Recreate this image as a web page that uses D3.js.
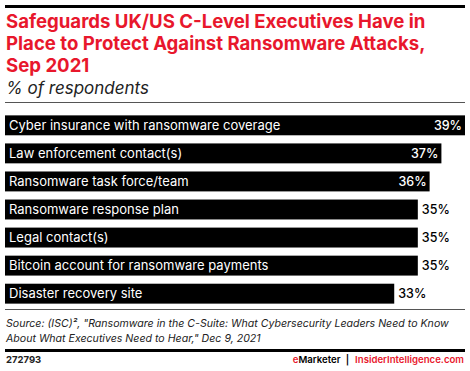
<!DOCTYPE html>
<html>
<head>
<meta charset="utf-8">
<script src="https://cdnjs.cloudflare.com/ajax/libs/d3/7.8.5/d3.min.js"></script>
<style>
  body { margin: 0; background: #fff; }
  text { font-family: Inter, "Liberation Sans", sans-serif; }
</style>
</head>
<body>
<script>
(function(){

// chart data
var categories = [
    "Cyber insurance with ransomware coverage",
    "Law enforcement contact(s)",
    "Ransomware task force/team",
    "Ransomware response plan",
    "Legal contact(s)",
    "Bitcoin account for ransomware payments",
    "Disaster recovery site"
];
var values = [39, 37, 36, 35, 35, 35, 33];

var titleLines = [
    "Safeguards UK/US C-Level Executives Have in",
    "Place to Protect Against Ransomware Attacks,",
    "Sep 2021"
];
var subtitle = "% of respondents";
var sourceLines = [
    "Source: (ISC)², \"Ransomware in the C-Suite: What Cybersecurity Leaders Need to Know",
    "About What Executives Need to Hear,\" Dec 9, 2021"
];
var chartId = "272793";

var width = 470,
    height = 371,
    red = "#e8172c";

var svg = d3.select("body")
    .append("svg")
    .attr("width", width)
    .attr("height", height);

// top rule
svg.append("rect")
    .attr("x", 5).attr("y", 5)
    .attr("width", 460).attr("height", 3)
    .attr("fill", "#000");

// title
svg.selectAll(".title")
    .data(titleLines)
    .enter()
    .append("text")
    .attr("class", "title")
    .attr("x", 6)
    .attr("y", function(d, i){ return 28 + i * 22; })
    .attr("fill", red)
    .attr("font-size", 18.6)
    .attr("font-weight", 700)
    .text(function(d){ return d; });

svg.append("text")
    .attr("x", 6).attr("y", 94)
    .attr("font-size", 17)
    .attr("font-style", "italic")
    .attr("fill", "#222")
    .text(subtitle);

svg.append("line")
    .attr("x1", 5).attr("x2", 465)
    .attr("y1", 102.5).attr("y2", 102.5)
    .attr("stroke", "#555").attr("stroke-width", 1);

// scales
var x = d3.scaleLinear()
    .domain([0, 39])
    .range([5, 465]);

var y = d3.scaleBand()
    .domain(categories)
    .range([112, 307])
    .paddingInner(0.29)
    .paddingOuter(0.12);

var bars = svg.selectAll(".bar")
    .data(categories)
    .enter()
    .append("g")
    .attr("class", "bar");

bars.append("rect")
    .attr("x", x(0))
    .attr("y", function(d){ return y(d); })
    .attr("width", function(d, i){ return x(values[i]) - x(0); })
    .attr("height", y.bandwidth())
    .attr("fill", "#000");

bars.append("text")
    .attr("x", x(0) + 4)
    .attr("y", function(d){ return y(d) + y.bandwidth() / 2 + 4.5; })
    .attr("fill", "#fff")
    .attr("font-size", 13)
    .text(function(d){ return d; });

// values: inside when the bar is long, outside otherwise
bars.append("text")
    .attr("x", function(d, i){
        return values[i] >= 36 ? x(values[i]) - 3 : x(values[i]) + 4;
    })
    .attr("y", function(d){ return y(d) + y.bandwidth() / 2 + 4.5; })
    .attr("text-anchor", function(d, i){ return values[i] >= 36 ? "end" : "start"; })
    .attr("fill", function(d, i){ return values[i] >= 36 ? "#fff" : "#000"; })
    .attr("font-size", 12.5)
    .attr("font-weight", 500)
    .text(function(d, i){ return values[i] + "%"; });

svg.append("line")
    .attr("x1", 5).attr("x2", 465)
    .attr("y1", 309.5).attr("y2", 309.5)
    .attr("stroke", "#555").attr("stroke-width", 1);

// source
svg.selectAll(".source")
    .data(sourceLines)
    .enter()
    .append("text")
    .attr("class", "source")
    .attr("x", 6)
    .attr("y", function(d, i){ return 327 + i * 15; })
    .attr("font-size", 10.6)
    .attr("font-style", "italic")
    .attr("fill", "#222")
    .text(function(d){ return d; });

svg.append("rect")
    .attr("x", 5).attr("y", 349)
    .attr("width", 460).attr("height", 3)
    .attr("fill", "#000");

svg.append("text")
    .attr("x", 6).attr("y", 363)
    .attr("font-size", 9.5)
    .attr("font-weight", 700)
    .attr("fill", "#222")
    .text(chartId);

var brand = svg.append("text")
    .attr("x", 464).attr("y", 363)
    .attr("text-anchor", "end")
    .attr("font-size", 9.6)
    .attr("font-weight", 600);
brand.append("tspan").attr("fill", red).text("e");
brand.append("tspan").attr("fill", "#000").text("Marketer");
brand.append("tspan").attr("fill", "#000").attr("dx", 5).text("|");
brand.append("tspan").attr("fill", red).attr("dx", 6).text("InsiderIntelligence.com");

})();
</script>
</body>
</html>
